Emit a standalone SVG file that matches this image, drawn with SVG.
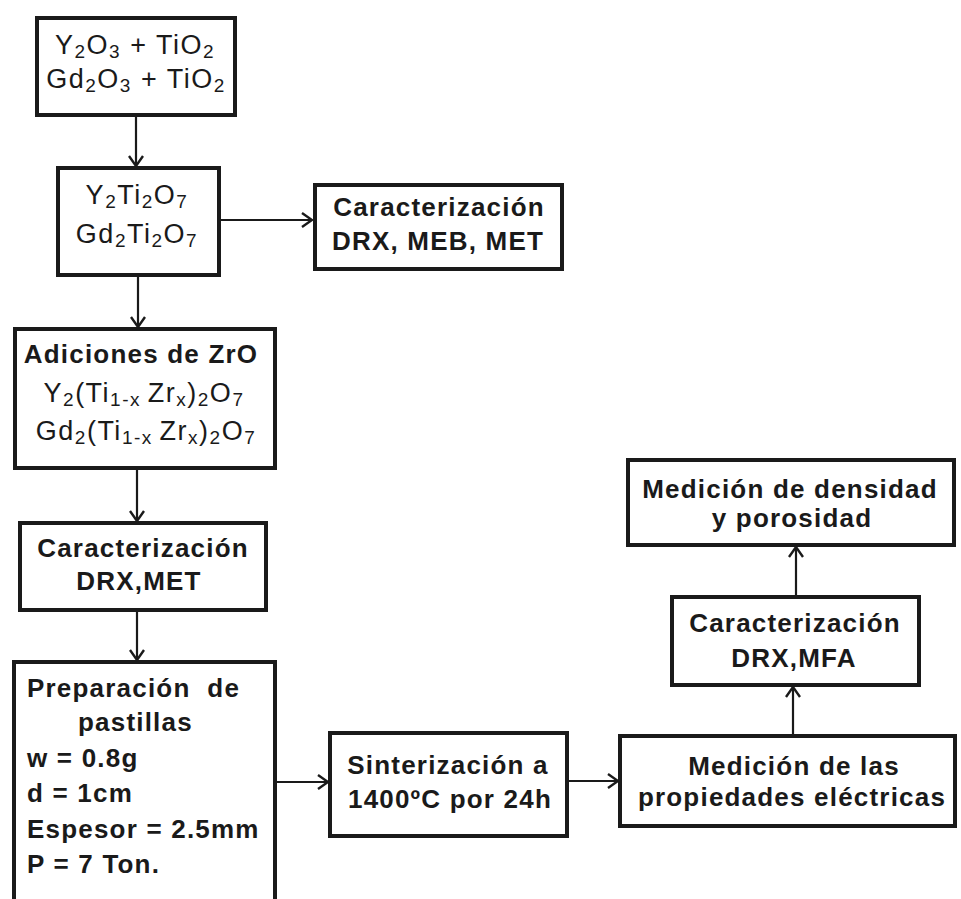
<svg xmlns="http://www.w3.org/2000/svg" width="961" height="899" viewBox="0 0 961 899">
<defs>
<style>
.box{fill:#fff;stroke:#1a1a1a;stroke-width:4}
.t{font-family:"Liberation Sans",Arial,sans-serif;font-size:26px;font-weight:bold;fill:#1a1a1a;letter-spacing:1.2px}
.f{font-family:"Liberation Sans",Arial,sans-serif;font-size:27px;font-weight:normal;fill:#1a1a1a;letter-spacing:1.5px}
.c{text-anchor:middle}
.s{font-size:19px}
.con line{stroke:#1a1a1a;stroke-width:2.2;marker-end:url(#ah)}
</style>
<marker id="ah" viewBox="-13 -9 15 18" refX="0" refY="0" markerWidth="15" markerHeight="18" markerUnits="userSpaceOnUse" orient="auto">
<path d="M-10,-7 L0,0 L-10,7" fill="none" stroke="#1a1a1a" stroke-width="2.4"/>
</marker>
</defs>
<rect width="961" height="899" fill="#fff"/>

<g id="n1">
<rect class="box" x="37" y="18" width="198" height="97"/>
<text class="f c" x="135" y="54">Y<tspan class="s" dy="4">2</tspan><tspan dy="-4">O</tspan><tspan class="s" dy="4">3</tspan><tspan dy="-4"> + TiO</tspan><tspan class="s" dy="4">2</tspan></text>
<text class="f c" x="136" y="88">Gd<tspan class="s" dy="4">2</tspan><tspan dy="-4">O</tspan><tspan class="s" dy="4">3</tspan><tspan dy="-4"> + TiO</tspan><tspan class="s" dy="4">2</tspan></text>
</g>

<g id="n2">
<rect class="box" x="58" y="168" width="161" height="107"/>
<text class="f c" x="137" y="204">Y<tspan class="s" dy="4">2</tspan><tspan dy="-4">Ti</tspan><tspan class="s" dy="4">2</tspan><tspan dy="-4">O</tspan><tspan class="s" dy="4">7</tspan></text>
<text class="f c" x="137" y="243">Gd<tspan class="s" dy="4">2</tspan><tspan dy="-4">Ti</tspan><tspan class="s" dy="4">2</tspan><tspan dy="-4">O</tspan><tspan class="s" dy="4">7</tspan></text>
</g>

<g id="n3">
<rect class="box" x="315" y="185" width="247" height="84"/>
<text class="t c" x="439" y="216">Caracterización</text>
<text class="t c" x="438" y="250">DRX, MEB, MET</text>
</g>

<g id="n4">
<rect class="box" x="15" y="329" width="260" height="139"/>
<text class="t c" x="141" y="363">Adiciones de ZrO</text>
<text class="f c" x="144" y="402">Y<tspan class="s" dy="4">2</tspan><tspan dy="-4">(Ti</tspan><tspan class="s" dy="4">1-x </tspan><tspan dy="-4">Zr</tspan><tspan class="s" dy="4">x</tspan><tspan dy="-4">)</tspan><tspan class="s" dy="4">2</tspan><tspan dy="-4">O</tspan><tspan class="s" dy="4">7</tspan></text>
<text class="f c" x="146" y="440">Gd<tspan class="s" dy="4">2</tspan><tspan dy="-4">(Ti</tspan><tspan class="s" dy="4">1-x </tspan><tspan dy="-4">Zr</tspan><tspan class="s" dy="4">x</tspan><tspan dy="-4">)</tspan><tspan class="s" dy="4">2</tspan><tspan dy="-4">O</tspan><tspan class="s" dy="4">7</tspan></text>
</g>

<g id="n5">
<rect class="box" x="20" y="523" width="246" height="87"/>
<text class="t c" x="143" y="557">Caracterización</text>
<text class="t c" x="139" y="590">DRX,MET</text>
</g>

<g id="n6">
<rect class="box" x="14" y="662" width="261" height="260"/>
<text class="t" x="27" y="697" xml:space="preserve">Preparación  de</text>
<text class="t" x="78" y="731">pastillas</text>
<text class="t" x="27" y="767">w = 0.8g</text>
<text class="t" x="27" y="802">d = 1cm</text>
<text class="t" x="27" y="838">Espesor = 2.5mm</text>
<text class="t" x="27" y="873">P = 7 Ton.</text>
</g>

<g id="n7">
<rect class="box" x="330" y="733" width="237" height="103"/>
<text class="t c" x="448" y="774">Sinterización a</text>
<text class="t c" x="450" y="808">1400ºC por 24h</text>
</g>

<g id="n8">
<rect class="box" x="620" y="736" width="335" height="90"/>
<text class="t c" x="794" y="775">Medición de las</text>
<text class="t c" x="792" y="806">propiedades eléctricas</text>
</g>

<g id="n9">
<rect class="box" x="672" y="597" width="247" height="88"/>
<text class="t c" x="795" y="632">Caracterización</text>
<text class="t c" x="794" y="667">DRX,MFA</text>
</g>

<g id="n10">
<rect class="box" x="628" y="460" width="326" height="85"/>
<text class="t c" x="790" y="498">Medición de densidad</text>
<text class="t c" x="792" y="527">y porosidad</text>
</g>

<g id="connectors" class="con">
<line x1="136" y1="117" x2="136" y2="166"/>
<line x1="138" y1="277" x2="138" y2="327"/>
<line x1="221" y1="220" x2="312" y2="220"/>
<line x1="137" y1="470" x2="137" y2="521"/>
<line x1="137" y1="612" x2="137" y2="660"/>
<line x1="277" y1="782" x2="328" y2="782"/>
<line x1="569" y1="781" x2="618" y2="781"/>
<line x1="793" y1="734" x2="793" y2="687"/>
<line x1="796" y1="595" x2="796" y2="547"/>
</g>
</svg>
